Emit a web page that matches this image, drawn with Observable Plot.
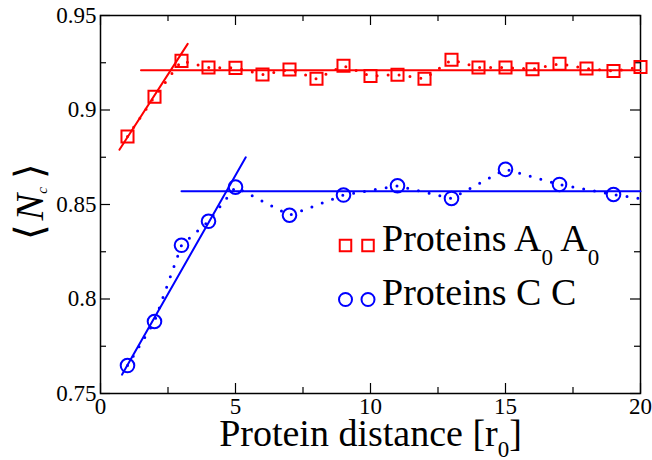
<!DOCTYPE html>
<html>
<head>
<meta charset="utf-8">
<script src="https://cdn.jsdelivr.net/npm/d3@7"></script>
<script src="https://cdn.jsdelivr.net/npm/@observablehq/plot@0.6"></script>
<style>
  html, body { margin: 0; padding: 0; background: #fff; }
  #chart { width: 652px; height: 460px; }
  #chart svg, #chart svg text { font-family: "Liberation Serif", "Times New Roman", serif !important; }
</style>
</head>
<body>
<div id="chart"></div>
<script>
// ---- data ----
const redX = [1, 2, 3, 4, 5, 6, 7, 8, 9, 10, 11, 12, 13, 14, 15, 16, 17, 18, 19, 20];
const redY = [0.886, 0.907, 0.926, 0.9225, 0.9223, 0.9188, 0.9214, 0.9165, 0.9234, 0.918,
              0.9187, 0.9165, 0.9266, 0.9225, 0.9225, 0.9216, 0.9245, 0.922, 0.9206, 0.9227];
const blueX = [1, 2, 3, 4, 5, 7, 9, 11, 13, 15, 17, 19, 21];
const blueY = [0.7648, 0.7881, 0.8284, 0.8411, 0.8592, 0.8443, 0.855, 0.8599, 0.8532, 0.8686, 0.8606, 0.8553, 0.851];
// fitted lines (endpoints)
const redSteepX = [0.7, 3.23],  redSteepY = [0.879, 0.935];
const redFlatX  = [1.5, 20],    redFlatY  = [0.921, 0.921];
const blueSteepX = [0.8, 5.38], blueSteepY = [0.760, 0.875];
const blueFlatX  = [3.0, 20],   blueFlatY  = [0.857, 0.857];
// ticks
const xMajor = [0, 5, 10, 15, 20];
const xMinor = [2.5, 7.5, 12.5, 17.5];
const yMajor = [0.75, 0.8, 0.85, 0.9, 0.95];
const yMinor = [0.775, 0.825, 0.875, 0.925];
// texts
const xTitle = [["Protein distance [r", ""], ["0", "sub"], ["]", ""]];
const yTitle = [["\u27E8\u200A", ""], ["N", "i"], ["c", "isub"], ["\u2009\u27E9", ""]];
const legendItems = [
  {rich: [["Proteins A", ""], ["0", "sub"], [" A", ""], ["0", "sub"]], symbol: "square", color: "#ff0000"},
  {rich: [["Proteins C C", ""]], symbol: "circle", color: "#0000ff"}
];

// ---- layout ----
const W = 652, H = 460;
const mL = 100, mR = 12, mT = 15, mB = 67;
const fw = W - mL - mR, fh = H - mT - mB;
const RED = "#ff0000", BLUE = "#0000ff";
const FONT = "'Liberation Serif', 'Times New Roman', serif";

const pts = (xs, ys) => xs.map((x, i) => ({x, y: ys[i]}));
const plain = rich => rich.map(r => r[0]).join("");

const marks = [];
// inward ticks on all four sides
marks.push(Plot.tickX(xMajor, {x: d => d, insetTop: fh - 10, stroke: "black", strokeWidth: 1.2}));
marks.push(Plot.tickX(xMajor, {x: d => d, insetBottom: fh - 10, stroke: "black", strokeWidth: 1.2}));
marks.push(Plot.tickX(xMinor, {x: d => d, insetTop: fh - 6, stroke: "black", strokeWidth: 1.2}));
marks.push(Plot.tickX(xMinor, {x: d => d, insetBottom: fh - 6, stroke: "black", strokeWidth: 1.2}));
marks.push(Plot.tickY(yMajor, {y: d => d, insetRight: fw - 10, stroke: "black", strokeWidth: 1.2}));
marks.push(Plot.tickY(yMajor, {y: d => d, insetLeft: fw - 10, stroke: "black", strokeWidth: 1.2}));
marks.push(Plot.tickY(yMinor, {y: d => d, insetRight: fw - 6, stroke: "black", strokeWidth: 1.2}));
marks.push(Plot.tickY(yMinor, {y: d => d, insetLeft: fw - 6, stroke: "black", strokeWidth: 1.2}));
marks.push(Plot.frame({stroke: "black", strokeWidth: 1.5}));
marks.push(Plot.axisX(xMajor, {tickSize: 0, tickPadding: 4, fontSize: 23, fontFamily: FONT, tickFormat: d => String(d), label: null}));
marks.push(Plot.axisY(yMajor, {tickSize: 0, tickPadding: 4, fontSize: 23, fontFamily: FONT, tickFormat: d => String(d), label: null}));

// dotted connecting lines
const dotted = {strokeWidth: 3, strokeDasharray: "0,11", strokeLinecap: "round"};
marks.push(Plot.line(pts(redX, redY), {x: "x", y: "y", stroke: RED, ...dotted, clip: true}));
marks.push(Plot.line(pts(blueX, blueY), {x: "x", y: "y", stroke: BLUE, ...dotted, clip: true}));
// fit lines
marks.push(Plot.line(pts(redSteepX, redSteepY), {x: "x", y: "y", stroke: RED, strokeWidth: 2}));
marks.push(Plot.line(pts(redFlatX, redFlatY), {x: "x", y: "y", stroke: RED, strokeWidth: 2}));
marks.push(Plot.line(pts(blueSteepX, blueSteepY), {x: "x", y: "y", stroke: BLUE, strokeWidth: 2}));
marks.push(Plot.line(pts(blueFlatX, blueFlatY), {x: "x", y: "y", stroke: BLUE, strokeWidth: 2}));
// markers
marks.push(Plot.dot(pts(redX, redY), {x: "x", y: "y", symbol: "square", r: 6.8, stroke: RED, strokeWidth: 2, fill: "none"}));
marks.push(Plot.dot(pts(blueX, blueY).filter(d => d.x <= 20), {x: "x", y: "y", symbol: "circle", r: 6.8, stroke: BLUE, strokeWidth: 2, fill: "none"}));

// legend
legendItems.forEach((item, i) => {
  const sy = 230 + i * 54;
  [245, 267.5].forEach(sx => {
    marks.push(Plot.dot([item], {frameAnchor: "top-left", dx: sx, dy: sy, symbol: item.symbol, r: 6.5,
      stroke: item.color, strokeWidth: 2, fill: "none"}));
  });
  marks.push(Plot.text([plain(item.rich)], {frameAnchor: "top-left", dx: 281.5, dy: sy + 5.5,
    text: d => d, textAnchor: "start", lineAnchor: "bottom", fontSize: 38, fontFamily: FONT, fill: "black"}));
});

// axis titles
marks.push(Plot.text([plain(xTitle)], {frameAnchor: "bottom", dy: 52, text: d => d,
  textAnchor: "middle", lineAnchor: "bottom", fontSize: 38, fontFamily: FONT, fill: "black"}));
marks.push(Plot.text([plain(yTitle)], {frameAnchor: "left", dx: -58, dy: -3, rotate: -90, text: d => d,
  textAnchor: "middle", lineAnchor: "bottom", fontSize: 40, fontFamily: FONT, fill: "black"}));

const svg = Plot.plot({
  width: W, height: H,
  marginLeft: mL, marginRight: mR, marginTop: mT, marginBottom: mB,
  x: {domain: [0, 20]},
  y: {domain: [0.75, 0.95]},
  style: `font-family: ${FONT}; background: white; color: black; overflow: visible;`,
  marks
});

// rich text: subscripts / italics as tspans
function applyRich(rich, subSize, shift) {
  const target = plain(rich);
  svg.querySelectorAll("text").forEach(t => {
    if (t.textContent !== target) return;
    t.textContent = "";
    let cur = 0;
    for (const [str, style] of rich) {
      const ts = document.createElementNS("http://www.w3.org/2000/svg", "tspan");
      ts.textContent = str;
      const isSub = style.includes("sub");
      const want = isSub ? shift : 0;
      if (want !== cur) { ts.setAttribute("dy", want - cur); cur = want; }
      if (isSub) ts.setAttribute("font-size", subSize);
      if (style.startsWith("i")) ts.setAttribute("font-style", "italic");
      t.appendChild(ts);
    }
  });
}
applyRich(xTitle, 23, 11);
applyRich(yTitle, 15, 4);
applyRich(legendItems[0].rich, 23, 14);

document.getElementById("chart").appendChild(svg);
</script>
</body>
</html>
